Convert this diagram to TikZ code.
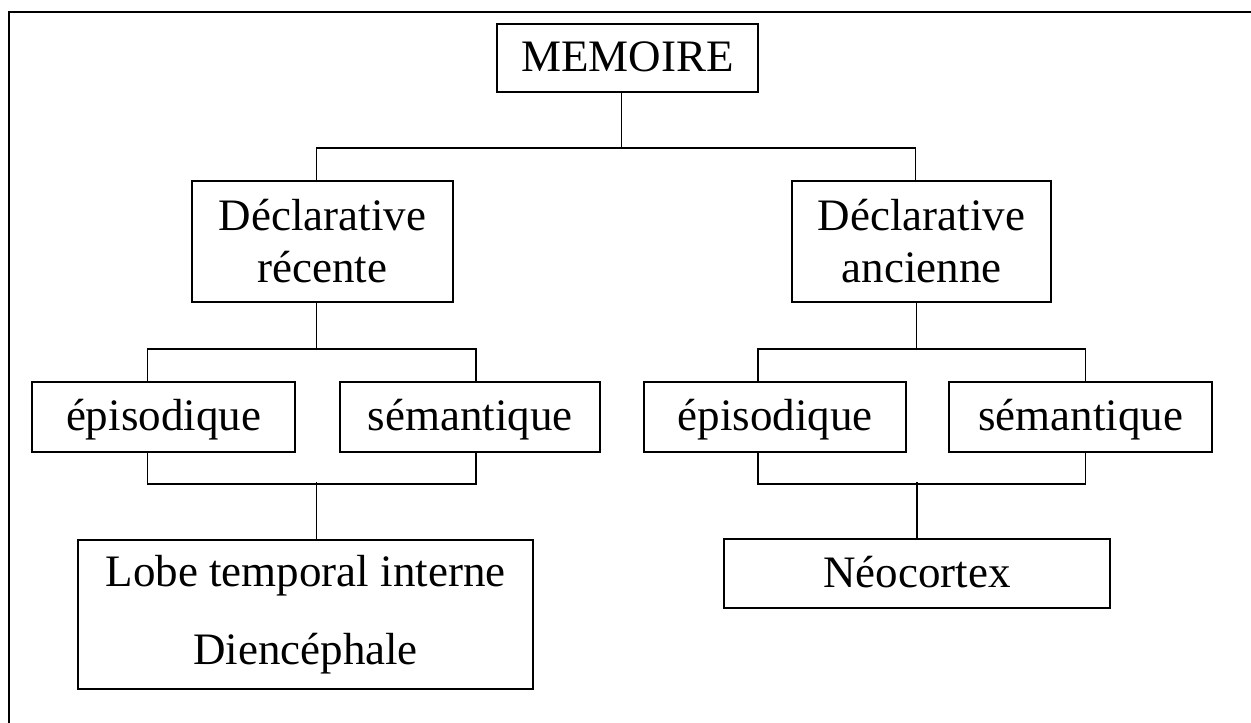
\documentclass[tikz,border=0pt]{standalone}
\usepackage{fontspec}
\setmainfont{Liberation Serif}
\tikzset{
	box/.style={draw, line width=1.5pt, inner sep=0pt},
	onebox/.style={box, text height=32pt, text depth=5pt},
	twobox/.style={box, align=center},
}

\begin{document}
\begin{tikzpicture}[x=1pt, y=-1pt, line width=1.5pt, font=\fontsize{45}{52}\selectfont]
		\useasboundingbox (0,0) rectangle (1251,723);
		\draw (9,723) -- (9,12) -- (1251,12);
		% boxes
		\node [onebox, minimum width=261pt, minimum height=68pt] (memo) at (627.5,58) {MEMOIRE};
		\node [twobox, minimum width=261pt, minimum height=121pt] (recente) at (322.5,241.5) {Déclarative\\récente};
		\node [twobox, minimum width=259pt, minimum height=121pt] (ancienne) at (921.5,241.5) {Déclarative\\ancienne};
		\node [onebox, minimum width=263pt, minimum height=70pt] (epiA) at (163.5,417) {épisodique};
		\node [onebox, minimum width=260pt, minimum height=70pt] (semA) at (470,417) {sémantique};
		\node [onebox, minimum width=262pt, minimum height=70pt] (epiB) at (775,417) {épisodique};
		\node [onebox, minimum width=263pt, minimum height=70pt] (semB) at (1080.5,417) {sémantique};
		\node [twobox, minimum width=455pt, minimum height=149pt] (lobe) at (305.5,614.5) {Lobe temporal interne\\[26pt]Diencéphale};
		\node [onebox, minimum width=386pt, minimum height=69pt] (neo) at (917,573.5) {Néocortex};
		% connectors
		\draw ([xshift=-6pt]memo.south) -- ++(0,55) -| ([xshift=-6pt]recente.north);
		\draw ([xshift=-6pt]memo.south) -- ++(0,55) -| ([xshift=-6pt]ancienne.north);
		\draw ([xshift=-6pt]recente.south) -- ++(0,46) -| ([xshift=-16pt]epiA.north);
		\draw ([xshift=-6pt]recente.south) -- ++(0,46) -| ([xshift=6pt]semA.north);
		\draw ([xshift=-5pt]ancienne.south) -- ++(0,46) -| ([xshift=-17pt]epiB.north);
		\draw ([xshift=-5pt]ancienne.south) -- ++(0,46) -| ([xshift=5pt]semB.north);
		\draw ([xshift=-16pt]epiA.south) -- ++(0,31) -| ([xshift=6pt]semA.south);
		\draw ([xshift=11pt]lobe.north) -- ++(0,-57);
		\draw ([xshift=-17pt]epiB.south) -- ++(0,31) -| ([xshift=5pt]semB.south);
		\draw (neo.north) -- ++(0,-56);
	\end{tikzpicture}
\end{document}
